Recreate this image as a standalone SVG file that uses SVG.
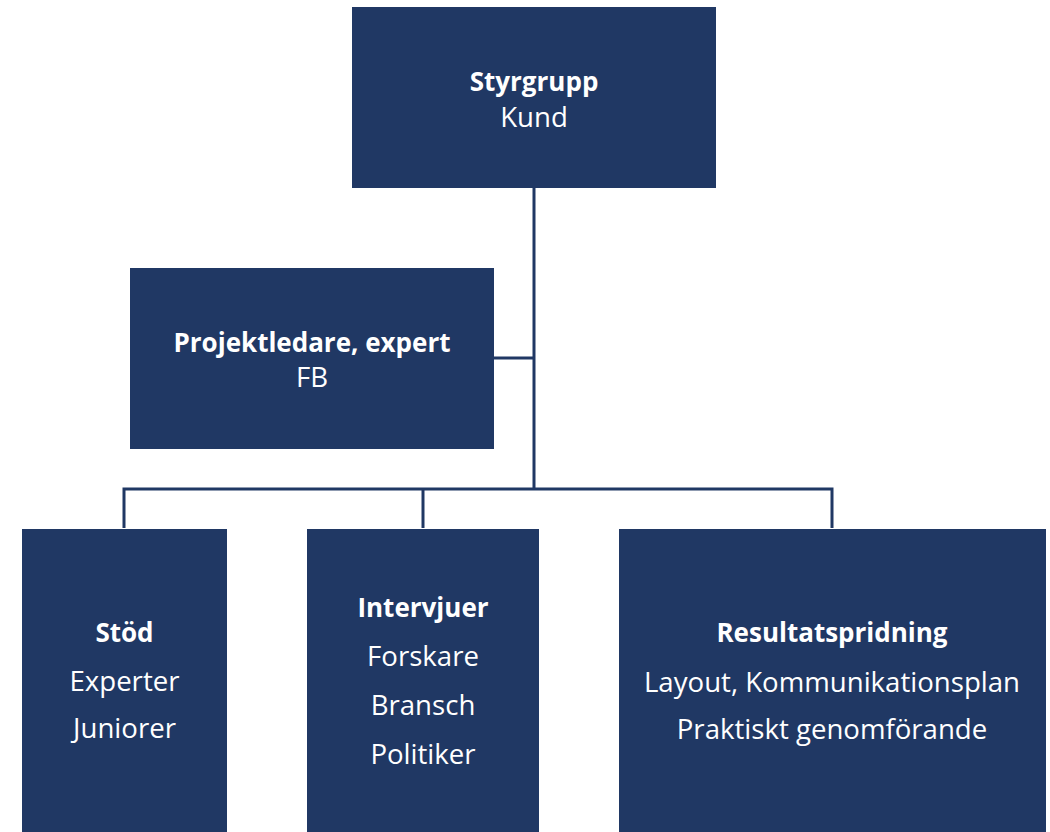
<svg xmlns="http://www.w3.org/2000/svg" width="1050" height="832" viewBox="0 0 1050 832">
<style>
.box{fill:#203864;}
.t{font-family:"Open Sans","Noto Sans","Liberation Sans",sans-serif;font-size:27.6px;fill:#ffffff;text-anchor:middle;}
.b{font-weight:bold;font-size:26px;}
.c{fill:none;stroke:#203864;stroke-width:3;}
</style>
<rect width="1050" height="832" fill="#ffffff"/>
<g id="connectors">
<path class="c" d="M534,188 V489"/>
<path class="c" d="M494,358 H534"/>
<path class="c" d="M124,528 V489 H832 V528"/>
<path class="c" d="M423,489 V528"/>
</g>
<g id="styrgrupp">
<rect class="box" x="352" y="7" width="364" height="181"/>
<text class="t b" x="534" y="91">Styrgrupp</text>
<text class="t" x="534" y="127">Kund</text>
</g>
<g id="projektledare">
<rect class="box" x="130" y="268" width="364" height="181"/>
<text class="t b" x="312" y="352">Projektledare, expert</text>
<text class="t" x="312" y="387">FB</text>
</g>
<g id="stod">
<rect class="box" x="22" y="529" width="205" height="310"/>
<text class="t b" x="124.5" y="642">Stöd</text>
<text class="t" x="124.5" y="691">Experter</text>
<text class="t" x="124.5" y="738">Juniorer</text>
</g>
<g id="intervjuer">
<rect class="box" x="307" y="529" width="232" height="310"/>
<text class="t b" x="423" y="617">Intervjuer</text>
<text class="t" x="423" y="666">Forskare</text>
<text class="t" x="423" y="715">Bransch</text>
<text class="t" x="423" y="764">Politiker</text>
</g>
<g id="resultatspridning">
<rect class="box" x="619" y="529" width="427" height="310"/>
<text class="t b" x="832" y="642">Resultatspridning</text>
<text class="t" x="832" y="692">Layout, Kommunikationsplan</text>
<text class="t" x="832" y="739">Praktiskt genomförande</text>
</g>
</svg>
